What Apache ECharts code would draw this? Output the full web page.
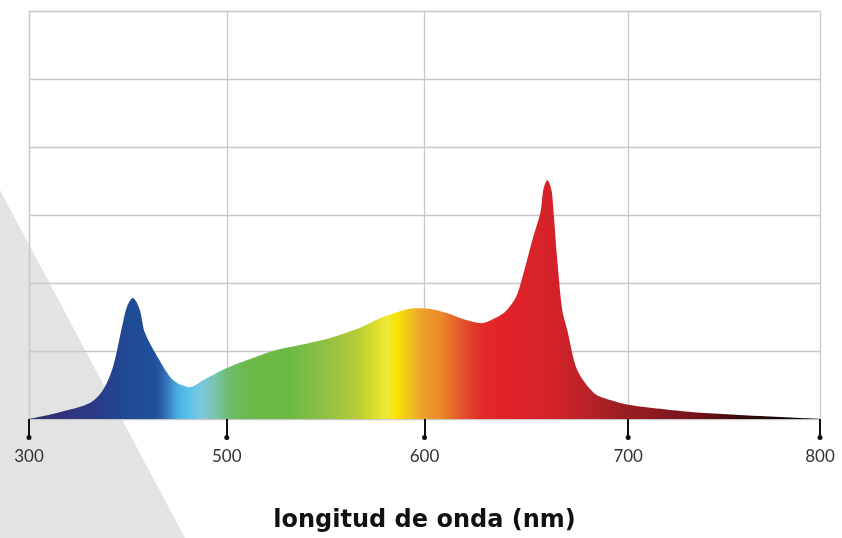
<!DOCTYPE html>
<html>
<head>
<meta charset="utf-8">
<script src="https://cdn.jsdelivr.net/npm/echarts@6/dist/echarts.min.js"></script>
<style>
html,body{margin:0;padding:0;background:#fff;}
#chart{width:842px;height:538px;}
</style>
</head>
<body>
<div id="chart"></div>
<script>
// Tick labels of the wavelength axis (as printed) and their positions on the axis
const tickLabels = ['300', '500', '600', '700', '800'];
const tickNm = [300, 500, 600, 700, 800];
const tickPos = [0, 1, 2, 3.03, 4];

// Spectrum: wavelength (nm) and relative intensity (grid units)
const wavelength = [300, 331, 362, 375, 385, 394, 399, 405, 412, 417, 429, 446, 463, 476, 500,
  517, 527, 537, 552, 568, 578, 588, 595, 603, 611, 620, 628, 635, 640, 645, 648, 653, 657, 658.3,
  660.3, 661.8, 662.7, 665.2, 667.6, 670.1, 675, 683.3, 691.2, 700, 716.7, 733.9, 768.8, 789.6, 800];
const intensity = [0, 0.10, 0.24, 0.43, 0.77, 1.35, 1.65, 1.78, 1.61, 1.28, 0.94, 0.57, 0.47, 0.57, 0.75,
  0.94, 1.03, 1.09, 1.19, 1.35, 1.49, 1.59, 1.63, 1.62, 1.56, 1.46, 1.41, 1.49, 1.59, 1.80, 2.08, 2.64, 3.05, 3.37,
  3.52, 3.43, 3.30, 2.34, 1.61, 1.31, 0.72, 0.38, 0.28, 0.21, 0.15, 0.10, 0.044, 0.015, 0];

const axisTitle = 'longitud de onda (nm)';

// piecewise mapping of wavelength onto the (non-linear) printed axis
function nmToPos(nm) {
  for (let i = 0; i < tickNm.length - 1; i++) {
    if (nm <= tickNm[i + 1]) {
      const t = (nm - tickNm[i]) / (tickNm[i + 1] - tickNm[i]);
      return tickPos[i] + t * (tickPos[i + 1] - tickPos[i]);
    }
  }
  return tickPos[tickPos.length - 1];
}
function posToLabel(v) {
  for (let i = 0; i < tickPos.length; i++) {
    if (Math.abs(v - tickPos[i]) < 1e-6) return tickLabels[i];
  }
  return '';
}

const seriesData = wavelength.map((w, i) => [nmToPos(w), intensity[i]]);

const spectrumStops = [
  [0, '#2a2f6e'], [0.053, '#30357e'], [0.083, '#2c3a86'], [0.125, '#1f4a94'],
  [0.159, '#1f4f9c'], [0.167, '#2a5ea8'], [0.176, '#3a7cc0'], [0.188, '#4ab0e0'],
  [0.201, '#5bc2ea'], [0.217, '#7cc8de'], [0.235, '#78c3ac'], [0.252, '#6dbd70'],
  [0.273, '#6cba50'], [0.293, '#6cb944'], [0.330, '#6cba44'], [0.372, '#8cc044'],
  [0.415, '#b8cc38'], [0.435, '#d8dc28'], [0.453, '#f2e83a'], [0.465, '#f8e400'],
  [0.482, '#f2c020'], [0.498, '#eea02a'], [0.520, '#ec8a2a'], [0.541, '#e6602a'],
  [0.558, '#e2402a'], [0.574, '#e22a2a'], [0.604, '#e12228'], [0.668, '#d2222a'],
  [0.707, '#b82228'], [0.750, '#9c1e22'], [0.791, '#8a1a20'], [0.833, '#7a1220'],
  [0.855, '#6a1018'], [0.896, '#3a0a0a'], [0.939, '#1a0808'], [1, '#0a0505']
].map(s => ({ offset: s[0], color: s[1] }));

const chart = echarts.init(document.getElementById('chart'), null, { renderer: 'canvas' });
chart.setOption({
  backgroundColor: '#ffffff',
  animation: false,
  graphic: [{
    type: 'polygon', z: -10, silent: true,
    shape: { points: [[0, 190], [0, 538], [185, 538]] },
    style: { fill: '#e3e3e3' }
  }],
  grid: { left: 29, right: 22, top: 11.5, bottom: 119, containLabel: false, outerBoundsMode: 'none' },
  xAxis: {
    type: 'value', min: 0, max: 4,
    axisLine: { show: true, onZero: false, lineStyle: { color: '#c8c8c8', width: 2 } },
    axisTick: { show: true, customValues: tickPos, length: 20, lineStyle: { color: '#111', width: 2 } },
    axisLabel: {
      customValues: tickPos, margin: 16,
      formatter: v => '{dot|}\n{num|' + posToLabel(v) + '}',
      rich: {
        dot: { width: 5, height: 5, borderRadius: 3, backgroundColor: '#111', align: 'center' },
        num: { fontFamily: 'Lato', fontSize: 17, color: '#333', lineHeight: 30, padding: [4, 0, 0, 0] }
      }
    },
    splitLine: { show: true, lineStyle: { color: '#c8c8c8', width: 1.3 } },
    name: axisTitle, nameLocation: 'middle', nameGap: 90,
    nameTextStyle: { fontFamily: 'DejaVu Sans', fontWeight: 'bold', fontSize: 24, color: '#111' }
  },
  yAxis: {
    type: 'value', min: 0, max: 6, interval: 1,
    axisLine: { show: true, lineStyle: { color: '#c8c8c8', width: 1.3 } },
    axisTick: { show: false },
    axisLabel: { show: false },
    splitLine: { show: true, lineStyle: { color: '#c8c8c8', width: 1.3 } }
  },
  series: [{
    type: 'line',
    data: seriesData,
    smooth: 0.3,
    symbol: 'none',
    lineStyle: { width: 0 },
    areaStyle: {
      opacity: 1,
      color: { type: 'linear', x: 0, y: 0, x2: 1, y2: 0, colorStops: spectrumStops }
    },
    z: 3
  }]
});
</script>
</body>
</html>
